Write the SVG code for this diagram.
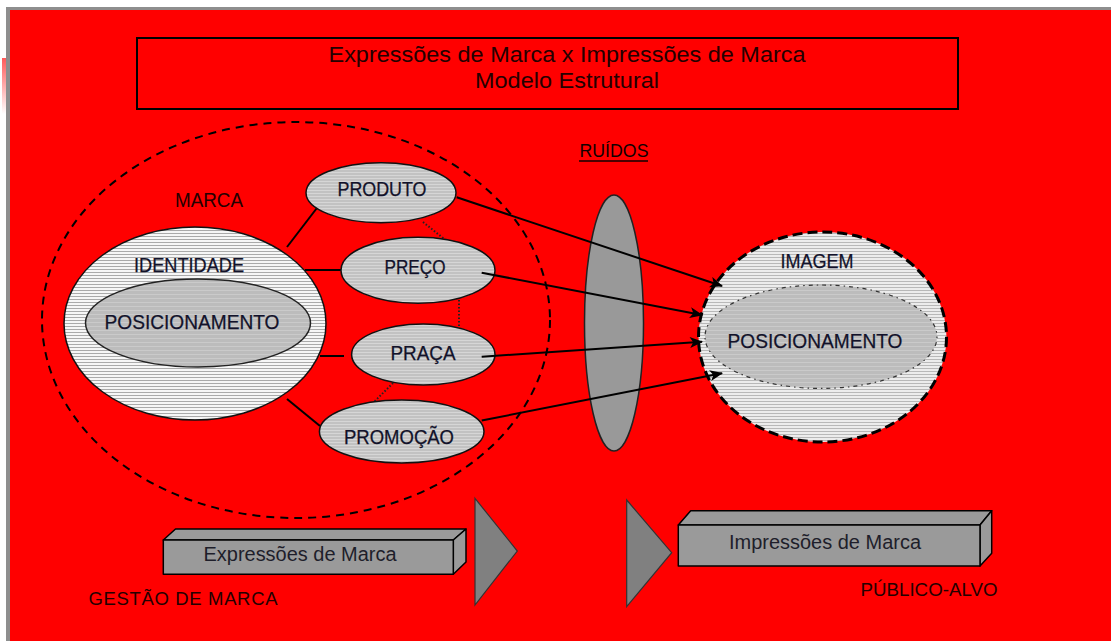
<svg xmlns="http://www.w3.org/2000/svg" width="1111" height="641" viewBox="0 0 1111 641">
  <defs>
    <pattern id="stripeW" width="4" height="3" patternUnits="userSpaceOnUse">
      <rect width="4" height="3" fill="#f6f6f6"/>
      <rect y="2" width="4" height="1" fill="#aaaaaa"/>
    </pattern>
    <pattern id="stripeI" width="4" height="3" patternUnits="userSpaceOnUse">
      <rect width="4" height="3" fill="#ececec"/>
      <rect y="2" width="4" height="1" fill="#b8b8b8"/>
    </pattern>
    <pattern id="stripeG" width="4" height="3" patternUnits="userSpaceOnUse">
      <rect width="4" height="3" fill="#c2c2c2"/>
      <rect y="1" width="4" height="1" fill="#d6d6d6"/>
    </pattern>
    <pattern id="stripeP" width="4" height="4" patternUnits="userSpaceOnUse">
      <rect width="4" height="4" fill="#bcbcbc"/>
      <rect y="2" width="4" height="1" fill="#cacaca"/>
    </pattern>
    <linearGradient id="pink" x1="0" y1="0" x2="0" y2="1">
      <stop offset="0" stop-color="#ff5a5a"/>
      <stop offset="1" stop-color="#ffffff"/>
    </linearGradient>
    <marker id="arr" viewBox="0 0 12 10" refX="11" refY="5" markerWidth="14" markerHeight="11" markerUnits="userSpaceOnUse" orient="auto">
      <path d="M0,0 L12,5 L0,10 L3,5 Z" fill="#000"/>
    </marker>
    <style>
      .lbl{font-family:"Liberation Sans",Arial,sans-serif;fill:#12122a;text-anchor:middle;stroke:#12122a;stroke-width:0.25}
      .red{font-family:"Liberation Sans",Arial,sans-serif;fill:#240000;text-anchor:middle}
      .ln{stroke:#000;stroke-width:2;fill:none}
      .dot{stroke:#222;stroke-width:2;stroke-dasharray:1.5,2;fill:none}
      .arrow{stroke:#000;stroke-width:2;fill:none;marker-end:url(#arr)}
      .small{fill:url(#stripeG);stroke:#111;stroke-width:1.5}
      .bar{fill:#9a9a9a;stroke:#000;stroke-width:1.5;stroke-linejoin:round}
      .tri{fill:#808080;stroke:#333;stroke-width:1.2}
    </style>
  </defs>

  <!-- background -->
  <rect x="0" y="0" width="1111" height="641" fill="#ffffff"/>
  <rect x="2" y="58" width="5" height="56" fill="url(#pink)"/>
  <rect x="6" y="7" width="1105" height="634" fill="#8e8e8e"/>
  <rect x="10" y="10" width="1101" height="631" fill="#ff0000"/>

  <!-- title -->
  <g id="title">
    <rect x="137" y="38" width="821" height="71" fill="none" stroke="#000" stroke-width="2"/>
    <text class="red" x="567" y="62" font-size="22.5" textLength="477" lengthAdjust="spacingAndGlyphs">Expressões de Marca x Impressões de Marca</text>
    <text class="red" x="567" y="88" font-size="22.5" textLength="184" lengthAdjust="spacingAndGlyphs">Modelo Estrutural</text>
  </g>

  <!-- MARCA dashed region -->
  <g id="marca">
    <ellipse cx="296" cy="320" rx="254" ry="198" fill="none" stroke="#000" stroke-width="2" stroke-dasharray="8,6"/>
    <text class="red" x="209" y="207" font-size="19.5" textLength="68" lengthAdjust="spacingAndGlyphs">MARCA</text>
  </g>

  <!-- connectors -->
  <g id="connectors">
    <line class="ln" x1="287" y1="247" x2="320" y2="204"/>
    <line class="ln" x1="305" y1="270" x2="341" y2="270"/>
    <line class="ln" x1="320" y1="356" x2="344" y2="356"/>
    <line class="ln" x1="287" y1="399" x2="320" y2="426"/>
    <line class="dot" x1="423" y1="222" x2="448" y2="242"/>
    <line class="dot" x1="459" y1="293" x2="459" y2="334" stroke-width="2.5"/>
    <line class="dot" x1="398" y1="378" x2="374" y2="402"/>
  </g>

  <!-- IDENTIDADE -->
  <g id="identidade">
    <ellipse cx="195" cy="323.5" rx="131" ry="96.5" fill="url(#stripeW)" stroke="#111" stroke-width="1.5"/>
    <text class="lbl" x="189" y="272" font-size="20" textLength="110" lengthAdjust="spacingAndGlyphs">IDENTIDADE</text>
    <ellipse cx="198" cy="323" rx="112.5" ry="44" fill="url(#stripeP)" stroke="#222" stroke-width="1.5"/>
    <text class="lbl" x="192" y="328.5" font-size="20.5" textLength="175" lengthAdjust="spacingAndGlyphs">POSICIONAMENTO</text>
  </g>

  <g id="produto">
    <ellipse class="small" cx="381" cy="192.7" rx="75" ry="30"/>
    <text class="lbl" x="382" y="196" font-size="19.5" textLength="89" lengthAdjust="spacingAndGlyphs">PRODUTO</text>
  </g>
  <g id="preco">
    <ellipse class="small" cx="418" cy="270.3" rx="77" ry="33"/>
    <text class="lbl" x="415" y="273.5" font-size="19.5" textLength="61" lengthAdjust="spacingAndGlyphs">PREÇO</text>
  </g>
  <g id="praca">
    <ellipse class="small" cx="423.3" cy="354.5" rx="71.7" ry="30.5"/>
    <text class="lbl" x="423" y="359.5" font-size="19.5" textLength="65" lengthAdjust="spacingAndGlyphs">PRAÇA</text>
  </g>
  <g id="promocao">
    <ellipse class="small" cx="401.7" cy="431.5" rx="82.3" ry="31.5"/>
    <text class="lbl" x="399" y="443.5" font-size="19.5" textLength="110" lengthAdjust="spacingAndGlyphs">PROMOÇÃO</text>
  </g>

  <!-- RUIDOS lens -->
  <g id="ruidos">
    <text class="red" x="614" y="157" font-size="18.5" textLength="69" lengthAdjust="spacingAndGlyphs" style="fill:#100000">RUÍDOS</text>
    <line x1="579" y1="161" x2="648" y2="161" stroke="#100000" stroke-width="1.5"/>
    <ellipse cx="614" cy="323" rx="29.5" ry="128" fill="#999999" stroke="#222" stroke-width="1.5"/>
  </g>

  <!-- IMAGEM -->
  <g id="imagem">
    <ellipse cx="822.5" cy="337" rx="124" ry="105" fill="url(#stripeI)" stroke="#000" stroke-width="3" stroke-dasharray="10,5"/>
    <text class="lbl" x="817" y="267.5" font-size="19.5" textLength="73" lengthAdjust="spacingAndGlyphs">IMAGEM</text>
    <ellipse cx="821" cy="336.7" rx="116" ry="51.7" fill="url(#stripeP)" stroke="#333" stroke-width="1.2" stroke-dasharray="1.5,4,4,4"/>
    <text class="lbl" x="815" y="347.5" font-size="20.5" textLength="175" lengthAdjust="spacingAndGlyphs">POSICIONAMENTO</text>
  </g>

  <!-- arrows to IMAGEM -->
  <g id="arrows">
    <line class="arrow" x1="456.7" y1="197.3" x2="722" y2="286"/>
    <line class="arrow" x1="481.7" y1="272.7" x2="702" y2="315"/>
    <line class="arrow" x1="481.7" y1="356.7" x2="702" y2="341.7"/>
    <line class="arrow" x1="481.7" y1="420.5" x2="722" y2="373.3"/>
  </g>

  <!-- bottom: Expressões -->
  <g id="expressoes">
    <polygon class="bar" points="163.3,540 175.5,529 466,529 453.3,540"/>
    <polygon class="bar" points="453.3,540 466,529 466,562 453.3,574.3"/>
    <rect class="bar" x="163.3" y="540" width="290" height="34.3"/>
    <text class="lbl" x="300" y="561" font-size="20" textLength="193" lengthAdjust="spacingAndGlyphs" style="fill:#1e1e2a;stroke:none">Expressões de Marca</text>
    <polygon class="tri" points="475,498.3 517.3,551 475,605"/>
  </g>

  <!-- bottom: Impressões -->
  <g id="impressoes">
    <polygon class="tri" points="626.7,500 671.7,552.7 626.7,606.7"/>
    <polygon class="bar" points="678.3,525 690.7,510.7 991.7,510.7 980,525"/>
    <polygon class="bar" points="980,525 991.7,510.7 991.7,553.3 980,566"/>
    <rect class="bar" x="678.3" y="525" width="301.7" height="41"/>
    <text class="lbl" x="825" y="548.5" font-size="20" textLength="192" lengthAdjust="spacingAndGlyphs" style="fill:#1e1e2a;stroke:none">Impressões de Marca</text>
  </g>

  <g id="labels">
    <text class="red" x="183" y="605" font-size="18.5" textLength="189" lengthAdjust="spacing">GESTÃO DE MARCA</text>
    <text class="red" x="929" y="596" font-size="18.5" textLength="137" lengthAdjust="spacingAndGlyphs">PÚBLICO-ALVO</text>
  </g>
</svg>
